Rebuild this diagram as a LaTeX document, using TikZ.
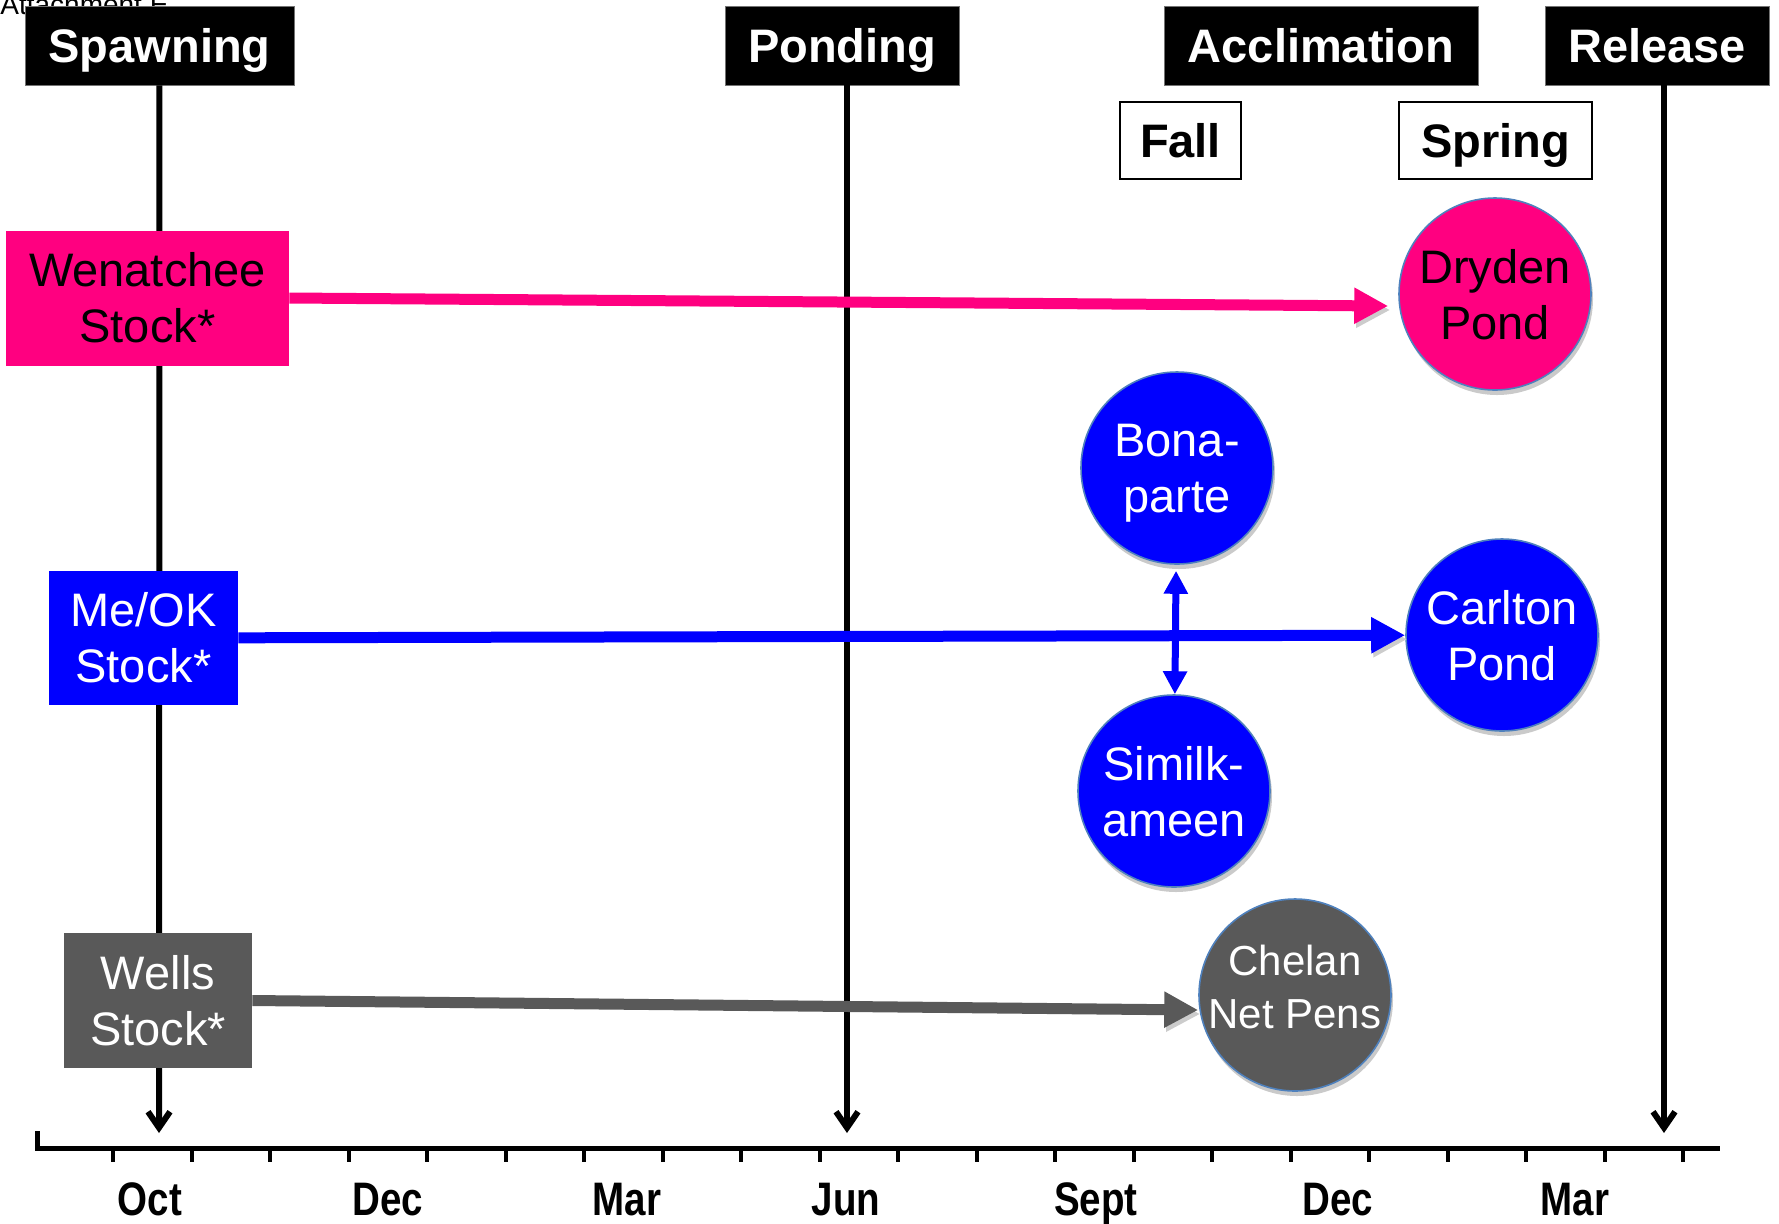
\documentclass[tikz,border=0pt]{standalone}
\usepackage{fontspec}
\setmainfont{Liberation Sans}
\newfontfamily\narrowfont[FakeStretch=0.82]{Liberation Sans}
\definecolor{stockpink}{RGB}{255,0,128}
\definecolor{stockblue}{RGB}{0,0,255}
\definecolor{stockgray}{RGB}{89,89,89}
\definecolor{rimblue}{RGB}{79,129,189}
\usetikzlibrary{arrows.meta, shadows}

\begin{document}
\begin{tikzpicture}[x=0.5pt, y=-0.5pt,
  phase/.style={fill=black, draw=black!55, text=white, inner sep=0pt,
    minimum height=39.5pt, text height=16.8pt, text depth=0pt,
    font=\bfseries\fontsize{23.5}{28}\selectfont},
  season/.style={draw=black, line width=1pt, fill=white, inner sep=0pt,
    minimum height=38.5pt, text height=16.8pt, text depth=0pt,
    font=\bfseries\fontsize{23.5}{28}\selectfont},
  stock/.style={inner sep=0pt, align=center, minimum height=67.5pt,
    font=\fontsize{23.5}{28}\selectfont},
  pondnode/.style={circle, draw=rimblue, line width=0.8pt, minimum size=96pt,
    inner sep=0pt, align=center, text depth=0pt, font=\fontsize{23.5}{28}\selectfont,
    drop shadow={shadow xshift=1pt, shadow yshift=-2.5pt, fill=black!35, opacity=0.6}},
  month/.style={inner sep=0pt, anchor=base, font=\narrowfont\bfseries\fontsize{23.5}{28}\selectfont},
  timeline/.style={line width=3pt, -{Straight Barb[length=8pt,width=11pt]}},
  arw/.style={line width=5.5pt, -{Triangle[length=17pt,width=17pt]},
    preaction={draw=black!20, transform canvas={shift={(1pt,-2pt)}}}},
]
\useasboundingbox (0,0) rectangle (1779,1223);
\node[anchor=base west, inner sep=0pt, font=\fontsize{14}{16}\selectfont] (attach) at (0,14) {Attachment E};

% phases and time line
\coordinate (spawnend) at (159,1133);
\coordinate (pondingend) at (847,1133);
\coordinate (relend) at (1664,1133);
\node[phase, minimum width=134.5pt] (spawn) at (159.5,45.5) {Spawning};
\node[phase, minimum width=117pt] (ponding) at (842,45.5) {Ponding};
\node[phase, minimum width=157pt] (accl) at (1321,45.5) {Acclimation};
\node[phase, minimum width=112pt] (rel) at (1657,45.5) {Release};
\draw[timeline] (spawn) -- (spawnend);
\draw[timeline] (ponding.south -| pondingend) -- (pondingend);
\draw[timeline] (rel.south -| relend) -- (relend);
\node[season, minimum width=60.5pt] (fall) at (1180.5,140.5) {Fall};
\node[season, minimum width=96.5pt] (spring) at (1495.5,140.5) {Spring};

\draw[line width=2.5pt] (37,1131) -- (37,1148) -- (1720,1148);
\foreach \k in {0,...,20}
  \draw[line width=2pt] ({113+78.5*\k},1148) -- ({113+78.5*\k},1162);
\foreach \mx/\mname [count=\i] in {150/Oct, 388/Dec, 627/Mar, 846/Jun, 1096/Sept, 1338/Dec, 1575/Mar}
  \node[month] (m\i) at (\mx,1215) {\mname};

% stocks and ponds
\node[stock, fill=stockpink, minimum width=141.5pt] (wen) at (147.5,298) {Wenatchee\\Stock*};
\node[stock, fill=stockblue, text=white, minimum width=94.5pt, minimum height=67pt] (meok) at (143.5,638) {Me/OK\\Stock*};
\node[stock, fill=stockgray, text=white, minimum width=94pt] (wells) at (158,1000.5) {Wells\\Stock*};

\node[pondnode, fill=stockpink] (dry) at (1495,294) {Dryden\\Pond};
\node[pondnode, fill=stockblue, text=white] (bona) at (1177,468) {Bona-\\parte};
\node[pondnode, fill=stockblue, text=white] (carl) at (1502,635) {Carlton\\Pond};
\node[pondnode, fill=stockblue, text=white] (simil) at (1174,791) {Similk-\\ameen};
\node[pondnode, fill=stockgray, text=white, text height=33pt,
  font=\fontsize{21}{26.5}\selectfont] (chel) at (1295,995) {Chelan\\Net Pens};

\coordinate (wenend) at ([shift={(-10,12)}]dry.west);
\coordinate (wellsend) at ([shift={(0,15)}]chel.west);
\draw[arw, stockpink] (wen.east) -- (wenend);
\draw[arw, stockblue] (meok) -- (carl);
\draw[arw, stockgray] (wells.east) -- (wellsend);
\draw[line width=3.5pt, stockblue, {Triangle[length=11.5pt,width=11.5pt]}-{Triangle[length=11.5pt,width=11.5pt]},
  shorten <=3pt] (bona) -- (simil);
\end{tikzpicture}
\end{document}
